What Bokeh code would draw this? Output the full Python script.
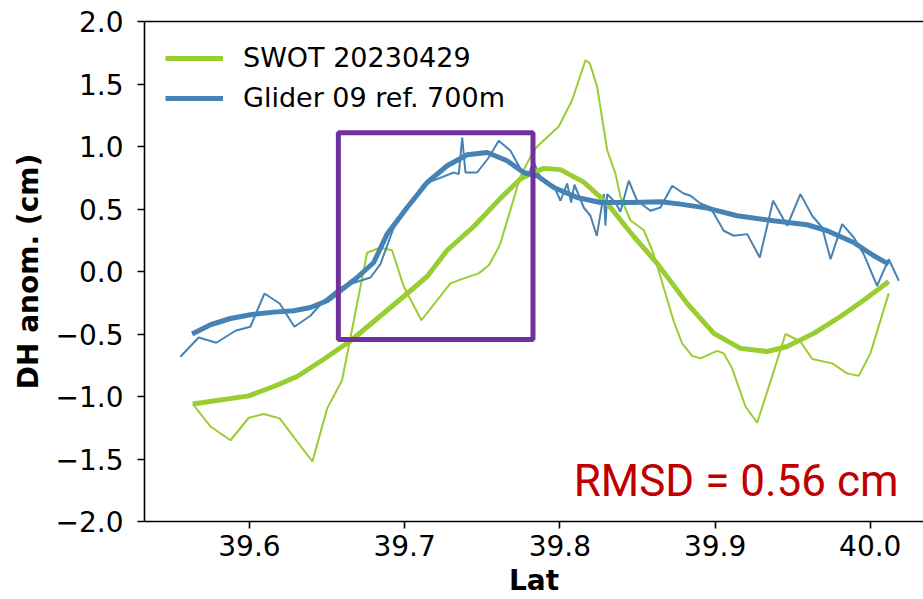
from bokeh.plotting import figure
from bokeh.models import (FixedTicker, LinearAxis, Legend, LegendItem, Range1d,
                          Label, CustomJSTickFormatter)
from bokeh.embed import file_html
from bokeh.resources import INLINE

# ---- data ----
swot_lat = [39.5635, 39.5749, 39.5878, 39.5996, 39.6092, 39.6195, 39.6307, 39.6406,
            39.6501, 39.6597, 39.6646, 39.6758, 39.6840, 39.6919, 39.6994, 39.7108,
            39.7295, 39.7381, 39.7477, 39.7542, 39.7596, 39.7617, 39.7746, 39.7822,
            39.7854, 39.7993, 39.8079, 39.8165, 39.8193, 39.8240, 39.8305, 39.8358,
            39.8390, 39.8454, 39.8541, 39.8595, 39.8648, 39.8734, 39.8788, 39.8852,
            39.8906, 39.9013, 39.9056, 39.9110, 39.9196, 39.9271, 39.9357, 39.9454,
            39.9550, 39.9626, 39.9754, 39.9851, 39.9926, 40.0001, 40.0119]
swot_dh = [-1.06, -1.24, -1.35, -1.17, -1.14, -1.175, -1.36, -1.52,
           -1.095, -0.87, -0.56, 0.15, 0.19, 0.17, -0.12, -0.39,
           -0.095, -0.055, -0.015, 0.05, 0.17, 0.225, 0.76, 0.945,
           1.0, 1.16, 1.37, 1.69, 1.665, 1.48, 0.97, 0.785,
           0.6, 0.41, 0.33, 0.17, -0.04, -0.40, -0.575, -0.675,
           -0.695, -0.635, -0.655, -0.775, -1.08, -1.21, -0.88, -0.50,
           -0.56, -0.70, -0.735, -0.815, -0.835, -0.655, -0.175]

swot_s_lat = [39.5635, 39.5996, 39.6157, 39.6307, 39.6457, 39.6646, 39.6801, 39.6994,
              39.7145, 39.7274, 39.7445, 39.7617, 39.7746, 39.7789, 39.7896, 39.8004,
              39.8154, 39.8305, 39.8476, 39.8627, 39.8820, 39.8992, 39.9164, 39.9336,
              39.9464, 39.9636, 39.9808, 39.9958, 40.0119]
swot_s_dh = [-1.06, -0.995, -0.92, -0.84, -0.72, -0.56, -0.40, -0.20,
             -0.04, 0.17, 0.36, 0.585, 0.74, 0.77, 0.825, 0.815,
             0.715, 0.545, 0.28, 0.065, -0.255, -0.495, -0.615, -0.64,
             -0.60, -0.495, -0.36, -0.23, -0.08]

glider_lat = [39.5555, 39.5673, 39.5787, 39.5910, 39.6006, 39.6097, 39.6195, 39.6290,
              39.6393, 39.6479, 39.6586, 39.6694, 39.6780, 39.6844, 39.6930, 39.7016,
              39.7123, 39.7209, 39.7316, 39.7349, 39.7371, 39.7392, 39.7467, 39.7542,
              39.7606, 39.7682, 39.7746, 39.7789, 39.7832, 39.7864, 39.7907, 39.7961,
              39.8004, 39.8047, 39.8073, 39.8094, 39.8154, 39.8197, 39.8238, 39.8283,
              39.8294, 39.8305, 39.8358, 39.8390, 39.8444, 39.8498, 39.8584, 39.8648,
              39.8724, 39.8798, 39.8842, 39.8906, 39.8970, 39.9056, 39.9121, 39.9207,
              39.9288, 39.9374, 39.9465, 39.9550, 39.9626, 39.9690, 39.9744, 39.9819,
              39.9894, 39.9958, 40.0044, 40.0119, 40.0184]
glider_dh = [-0.682, -0.528, -0.570, -0.474, -0.442, -0.176, -0.256, -0.442,
             -0.354, -0.234, -0.128, -0.082, -0.048, 0.059, 0.352, 0.512,
             0.699, 0.739, 0.792, 0.779, 1.072, 0.792, 0.792, 0.912,
             1.046, 0.966, 0.822, 0.750, 0.878, 0.779, 0.712, 0.686,
             0.566, 0.704, 0.552, 0.694, 0.512, 0.446, 0.286, 0.619,
             0.366, 0.619, 0.552, 0.478, 0.726, 0.566, 0.486, 0.512,
             0.686, 0.624, 0.606, 0.544, 0.512, 0.326, 0.286, 0.299,
             0.112, 0.566, 0.366, 0.619, 0.446, 0.352, 0.099, 0.379,
             0.272, 0.139, -0.114, 0.099, -0.074]

glider_s_lat = [39.5631, 39.5749, 39.5878, 39.6006, 39.6157, 39.6285, 39.6393, 39.6501,
                39.6586, 39.6694, 39.6801, 39.6887, 39.7016, 39.7145, 39.7274, 39.7403,
                39.7532, 39.7660, 39.7767, 39.7854, 39.7961, 39.8111, 39.8262, 39.8455,
                39.8648, 39.8777, 39.8949, 39.9142, 39.9378, 39.9593, 39.9722, 39.9894,
                40.0023, 40.0119]
glider_s_dh = [-0.50, -0.426, -0.376, -0.346, -0.325, -0.314, -0.288, -0.234,
               -0.154, -0.048, 0.072, 0.299, 0.512, 0.712, 0.846, 0.934,
               0.952, 0.886, 0.792, 0.766, 0.672, 0.592, 0.552, 0.552,
               0.558, 0.539, 0.507, 0.446, 0.406, 0.374, 0.326, 0.232,
               0.126, 0.059]

x_ticks = [39.6, 39.7, 39.8, 39.9, 40.0]
y_ticks = [-2.0, -1.5, -1.0, -0.5, 0.0, 0.5, 1.0, 1.5, 2.0]

box_left, box_right, box_bottom, box_top = 39.6573, 39.7827, -0.544, 1.11
rmsd_text = "RMSD = 0.56 cm"
rmsd_x, rmsd_y = 40.0182, -1.674

GREEN = "#9acd32"
BLUE = "#4682b4"
FONT = "DejaVu Sans"

p = figure(width=923, height=599, output_backend="svg", toolbar_location=None,
           x_range=Range1d(39.5324, 40.0343), y_range=Range1d(-2.0, 2.0),
           min_border_left=144, min_border_right=0, min_border_top=21,
           min_border_bottom=0)
p.outline_line_color = None
p.xgrid.visible = False
p.ygrid.visible = False
p.background_fill_color = "white"
p.border_fill_color = "white"

g_thin = p.line(swot_lat, swot_dh, line_color=GREEN, line_width=2)
b_thin = p.line(glider_lat, glider_dh, line_color=BLUE, line_width=2)
g_thick = p.line(swot_s_lat, swot_s_dh, line_color=GREEN, line_width=5)
b_thick = p.line(glider_s_lat, glider_s_dh, line_color=BLUE, line_width=5)

p.quad(left=[box_left], right=[box_right], bottom=[box_bottom], top=[box_top],
       fill_color=None, line_color="#7030a0", line_width=5)

for ax in (p.xaxis[0], p.yaxis[0]):
    ax.axis_line_width = 1.6
    ax.axis_line_color = "black"
    ax.major_tick_line_width = 1.6
    ax.major_tick_line_color = "black"
    ax.major_tick_in = 0
    ax.major_tick_out = 7
    ax.minor_tick_line_color = None
    ax.major_label_text_font = FONT
    ax.major_label_text_font_size = "28px"
    ax.major_label_text_color = "black"
    ax.axis_label_text_font = FONT
    ax.axis_label_text_font_size = "28px"
    ax.axis_label_text_font_style = "bold"
    ax.axis_label_text_color = "black"

p.xaxis[0].ticker = FixedTicker(ticks=x_ticks)
p.yaxis[0].ticker = FixedTicker(ticks=y_ticks)
p.xaxis[0].formatter = CustomJSTickFormatter(code="return tick.toFixed(1);")
p.yaxis[0].formatter = CustomJSTickFormatter(
    code="return tick.toFixed(1).replace('-', '\u2212');")
p.xaxis[0].axis_label = "Lat"
p.yaxis[0].axis_label = "DH anom. (cm)"
p.xaxis[0].major_label_standoff = 6
p.xaxis[0].axis_label_standoff = 5
p.yaxis[0].major_label_standoff = 14
p.yaxis[0].axis_label_standoff = 8

top_axis = LinearAxis(ticker=FixedTicker(ticks=[]), major_label_text_font_size="0px",
                      major_tick_out=0, major_tick_in=0, minor_tick_out=0,
                      minor_tick_in=0, axis_line_width=1.6, axis_line_color="black")
p.add_layout(top_axis, "above")

legend = Legend(items=[LegendItem(label="SWOT 20230429", renderers=[g_thick]),
                       LegendItem(label="Glider 09 ref. 700m", renderers=[b_thick])],
                location="top_left", border_line_color=None, background_fill_alpha=0,
                label_text_font=FONT, label_text_font_size="27px",
                label_text_color="black",
                glyph_width=58, glyph_height=30, label_height=30, spacing=9,
                padding=10, margin=21, label_standoff=20)
p.add_layout(legend)

p.add_layout(Label(x=rmsd_x, y=rmsd_y, text=rmsd_text, text_align="right",
                   text_baseline="alphabetic", text_color="#c00000",
                   text_font="Roboto", text_font_size="44px"))

open("out.html", "w").write(file_html(p, INLINE))
